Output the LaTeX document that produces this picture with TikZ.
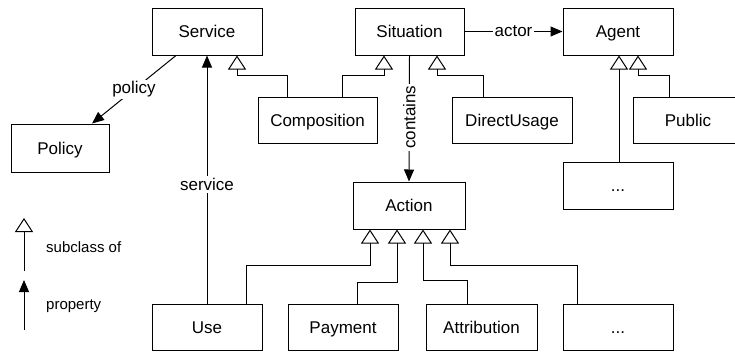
\documentclass[tikz,border=0pt]{standalone}
\usepackage{fontspec}
\setmainfont{Liberation Sans}
\usetikzlibrary{arrows.meta,calc}
\begin{document}
\begin{tikzpicture}[x=1pt,y=-1pt,
  every node/.style={font=\fontsize{17}{20}\selectfont},
  cls/.style={draw,line width=1pt,minimum height=47pt,inner sep=0pt,text height=12.2pt,text depth=0pt},
  sub/.style={line width=1pt,-{Triangle[open,width=18pt,length=14pt]}},
  prop/.style={line width=1pt,-{Triangle[width=10pt,length=12pt]}},
  lbl/.style={fill=white,inner sep=2pt},
  leg/.style={font=\fontsize{15}{18}\selectfont,anchor=west,inner sep=0pt}]
\useasboundingbox (0,0) rectangle (735,351);
% classes
\node[cls,minimum width=110pt] (Service) at (207,31.5) {Service};
\node[cls,minimum width=109pt] (Situation) at (409.5,31.5) {Situation};
\node[cls,minimum width=110pt] (Agent) at (618,31.5) {Agent};
\node[cls,minimum width=98pt,minimum height=48pt] (Policy) at (60,148) {Policy};
\node[cls,minimum width=119pt,minimum height=46pt] (Composition) at (317.5,120) {Composition};
\node[cls,minimum width=120pt,minimum height=46pt] (DirectUsage) at (512,120) {DirectUsage};
\node[cls,minimum width=110pt,minimum height=46pt] (Public) at (688,120) {Public};
\node[cls,minimum width=110pt] (AgentMore) at (618,185.5) {...};
\node[cls,minimum width=112pt] (Action) at (409,205.5) {Action};
\node[cls,minimum width=110pt,minimum height=46pt] (Use) at (207,327) {Use};
\node[cls,minimum width=110pt,minimum height=46pt] (Payment) at (343,327) {Payment};
\node[cls,minimum width=111pt,minimum height=46pt] (Attribution) at (481.5,327) {Attribution};
\node[cls,minimum width=110pt,minimum height=46pt] (ActionMore) at (618,327) {...};
% properties
\draw[prop] ([xshift=-31pt]Service.south) -- node[lbl] {policy} ([xshift=32pt]Policy.north);
\draw[prop] (Use.north) -- node[lbl,pos=0.48] {service} (Service.south);
\draw[prop] (Situation.east) -- node[lbl] {actor} (Agent.west);
\draw[prop] (Situation.south) -- node[lbl,rotate=90,pos=0.49] {contains} (Action.north);
% subclass
\draw[sub] ([xshift=-30.5pt]Composition.north) -- ++(0,-21) -| ([xshift=30pt]Service.south);
\draw[sub] ([xshift=24.5pt]Composition.north) -- ++(0,-21) -| ([xshift=-25.5pt]Situation.south);
\draw[sub] ([xshift=-29pt]DirectUsage.north) -- ++(0,-21) -| ([xshift=27.5pt]Situation.south);
\draw[sub] ([xshift=1pt]AgentMore.north) -- ([xshift=1pt]Agent.south);
\draw[sub] ([xshift=-19pt]Public.north) -- ++(0,-21) -| ([xshift=20pt]Agent.south);
\draw[sub] ([xshift=39pt]Use.north) -- ++(0,-38) -| ([xshift=-39pt]Action.south);
\draw[sub] ([xshift=14pt]Payment.north) -- ++(0,-21) -| ([xshift=-12pt]Action.south);
\draw[sub] ([xshift=-14.5pt]Attribution.north) -- ++(0,-23) -| ([xshift=14pt]Action.south);
\draw[sub] ([xshift=-41pt]ActionMore.north) -- ++(0,-38) -| ([xshift=41pt]Action.south);
% legend
\coordinate (legA1) at (24,271);
\coordinate (legA2) at (24,218);
\coordinate (legB1) at (24,330);
\coordinate (legB2) at (24,280);
\draw[sub] (legA1) -- (legA2);
\draw[prop] (legB1) -- (legB2);
\node[leg] (legsub) at (46,247) {subclass of};
\node[leg] (legprop) at (46,306) {property};
\end{tikzpicture}
\end{document}
